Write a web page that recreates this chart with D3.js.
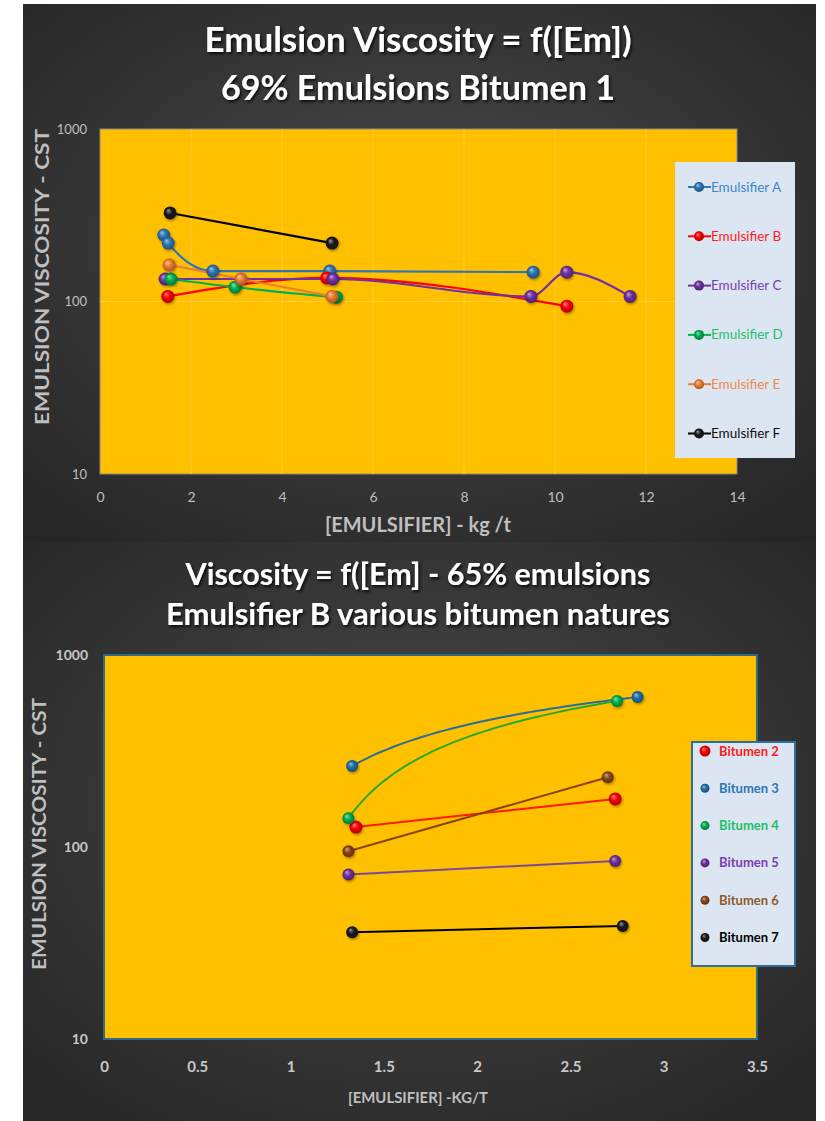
<!DOCTYPE html>
<html>
<head>
<meta charset="utf-8">
<script src="https://cdn.jsdelivr.net/npm/d3@7"></script>
<style>
  html, body { margin: 0; padding: 0; background: #ffffff; }
  svg { display: block; }
  text { font-family: Lato, "Open Sans", sans-serif; }
</style>
</head>
<body>
<svg id="chart" width="825" height="1121"></svg>
<script>
// ---------- Top chart: 69% emulsions, bitumen 1 ----------
const emulsifierNames = ["Emulsifier A", "Emulsifier B", "Emulsifier C", "Emulsifier D", "Emulsifier E", "Emulsifier F"];
const emulsifierColors = ["#2e75b6", "#ff0000", "#7030a0", "#00b050", "#ed7d31", "#000000"];
const emulsifierText = ["#3a86cc", "#ff1a1a", "#7a3db0", "#1fbf6a", "#f08a4b", "#111111"];
const emA = [[1.4, 243], [1.5, 218], [2.48, 150], [5.05, 150], [9.52, 148]];
const emB = [[1.49, 107], [4.98, 137], [10.26, 94]];
const emC = [[1.43, 135], [5.12, 135], [9.47, 107], [10.26, 148], [11.65, 107]];
const emD = [[1.56, 135], [2.97, 121], [5.2, 106]];
const emE = [[1.52, 163], [3.1, 135], [5.1, 107]];
const emF = [[1.54, 326], [5.1, 218]];
const emulsifierSeries = [emA, emB, emC, emD, emE, emF];
const topXTicks = [0, 2, 4, 6, 8, 10, 12, 14];
const topYTicks = [10, 100, 1000];

// ---------- Bottom chart: 65% emulsions, emulsifier B ----------
const bitumenNames = ["Bitumen 2", "Bitumen 3", "Bitumen 4", "Bitumen 5", "Bitumen 6", "Bitumen 7"];
const bitumenColors = ["#ff0000", "#1f6fa8", "#00b050", "#7030a0", "#8b4513", "#000000"];
const bitumenLine = ["#ff1a00", "#2a6f96", "#2aa82a", "#7a4a9a", "#8b4513", "#000000"];
const bitumenText = ["#ff1a1a", "#2e75b6", "#1fbf6a", "#7a3db0", "#8b5a2b", "#000000"];
const bit2 = [[1.35, 127], [2.74, 178]];
const bit3 = [[1.33, 264], [2.86, 604]];
const bit4 = [[1.31, 141], [2.75, 576]];
const bit5 = [[1.31, 72], [2.74, 84.5]];
const bit6 = [[1.31, 95], [2.70, 231]];
const bit7 = [[1.33, 36], [2.78, 38.8]];
const bitumenSeries = [bit2, bit3, bit4, bit5, bit6, bit7];
// series whose connector is a logarithmic fit (drawn in value space, not screen space)
const bitumenLogFit = [false, true, true, false, false, false];
const bottomXTicks = [0, 0.5, 1, 1.5, 2, 2.5, 3, 3.5];
const bottomYTicks = [10, 100, 1000];

const svg = d3.select("#chart");
const defs = svg.append("defs");

// background panels with soft radial light
function panelGrad(id) {
  const g = defs.append("radialGradient").attr("id", id)
    .attr("cx", "50%").attr("cy", "45%").attr("r", "70%");
  g.append("stop").attr("offset", "0%").attr("stop-color", "#4b4b4b");
  g.append("stop").attr("offset", "100%").attr("stop-color", "#262626");
}
panelGrad("panelTop");
panelGrad("panelBottom");
svg.append("rect").attr("x", 23).attr("y", 4).attr("width", 793).attr("height", 538).attr("fill", "url(#panelTop)");
svg.append("rect").attr("x", 23).attr("y", 542).attr("width", 793).attr("height", 579).attr("fill", "url(#panelBottom)");

// shadows
const sh = defs.append("filter").attr("id", "tshadow").attr("x", "-10%").attr("y", "-30%").attr("width", "120%").attr("height", "160%");
sh.append("feDropShadow").attr("dx", 1.5).attr("dy", 2).attr("stdDeviation", 1.5).attr("flood-color", "#000").attr("flood-opacity", 0.8);
const ms = defs.append("filter").attr("id", "mshadow").attr("x", "-50%").attr("y", "-50%").attr("width", "200%").attr("height", "200%");
ms.append("feDropShadow").attr("dx", 1).attr("dy", 1.5).attr("stdDeviation", 1).attr("flood-color", "#000").attr("flood-opacity", 0.35);

// sphere-like marker gradients
function sphere(id, color) {
  const c = d3.color(color);
  const g = defs.append("radialGradient").attr("id", id)
    .attr("cx", "50%").attr("cy", "50%").attr("r", "55%").attr("fx", "35%").attr("fy", "30%");
  g.append("stop").attr("offset", "0%").attr("stop-color", d3.interpolateRgb(color, "#ffffff")(0.55));
  g.append("stop").attr("offset", "45%").attr("stop-color", color);
  g.append("stop").attr("offset", "100%").attr("stop-color", c.darker(1.2).formatHex());
  return "url(#" + id + ")";
}
const emFill = emulsifierColors.map((c, i) => sphere("em" + i, c === "#000000" ? "#1a1a1a" : c));
const bitFill = bitumenColors.map((c, i) => sphere("bit" + i, c === "#000000" ? "#1a1a1a" : c));

function title(lines, y0, dy, size, widths) {
  lines.forEach((t, i) => {
    svg.append("text").attr("x", 418).attr("y", y0 + i * dy)
      .attr("text-anchor", "middle").attr("font-size", size).attr("font-weight", 700)
      .attr("textLength", widths[i]).attr("lengthAdjust", "spacingAndGlyphs")
      .attr("fill", "#ffffff").attr("filter", "url(#tshadow)").text(t);
  });
}
title(["Emulsion Viscosity = f([Em])", "69% Emulsions Bitumen 1"], 52, 48, 34, [427, 394]);
title(["Viscosity = f([Em] - 65% emulsions", "Emulsifier B various bitumen natures"], 585, 40, 31, [465, 504]);

// ---------- top plot ----------
const xT = d3.scaleLinear().domain([0, 14]).range([100, 737]);
const yT = d3.scaleLog().domain([10, 1000]).range([474, 129]);

svg.append("rect").attr("x", xT(0)).attr("y", yT(1000))
  .attr("width", xT(14) - xT(0)).attr("height", yT(10) - yT(1000))
  .attr("fill", "#ffc000").attr("stroke", "#8a8a8a").attr("stroke-width", 1);

const gT = svg.append("g");
gT.selectAll("line.vg").data(topXTicks.slice(1, -1)).join("line")
  .attr("x1", d => xT(d)).attr("x2", d => xT(d)).attr("y1", yT(1000)).attr("y2", yT(10))
  .attr("stroke", "#ffcc33").attr("stroke-width", 1);
gT.selectAll("line.hg").data([100]).join("line")
  .attr("x1", xT(0)).attr("x2", xT(14)).attr("y1", d => yT(d)).attr("y2", d => yT(d))
  .attr("stroke", "#ffcc33").attr("stroke-width", 1);

const axTY = svg.append("g").attr("transform", `translate(${xT(0)},0)`)
  .call(d3.axisLeft(yT).tickValues(topYTicks).tickFormat(d3.format("d")).tickSize(0).tickPadding(13));
const axTX = svg.append("g").attr("transform", `translate(0,${yT(10)})`)
  .call(d3.axisBottom(xT).tickValues(topXTicks).tickFormat(d3.format("d")).tickSize(0).tickPadding(18));
[axTY, axTX].forEach(a => {
  a.select(".domain").remove();
  a.selectAll("text").attr("fill", "#bfbfbf").attr("font-size", 14).attr("font-family", "Lato, sans-serif");
});
axTY.selectAll("text").attr("font-size", 13);

svg.append("text").attr("transform", "translate(49,277) rotate(-90)")
  .attr("text-anchor", "middle").attr("font-size", 19).attr("font-weight", 700)
  .attr("textLength", 296).attr("lengthAdjust", "spacingAndGlyphs")
  .attr("fill", "#bfbfbf").text("EMULSION VISCOSITY - CST");
svg.append("text").attr("x", 418).attr("y", 532).attr("text-anchor", "middle")
  .attr("font-size", 20).attr("font-weight", 700).attr("fill", "#bfbfbf")
  .attr("textLength", 186).attr("lengthAdjust", "spacingAndGlyphs").text("[EMULSIFIER] - kg /t");

const lineT = d3.line().x(d => xT(d[0])).y(d => yT(d[1])).curve(d3.curveMonotoneX);
emulsifierSeries.forEach((s, i) => {
  svg.append("path").datum(s).attr("d", lineT).attr("fill", "none")
    .attr("stroke", emulsifierColors[i]).attr("stroke-width", 2.2);
});
emulsifierSeries.forEach((s, i) => {
  svg.append("g").selectAll("circle").data(s).join("circle")
    .attr("cx", d => xT(d[0])).attr("cy", d => yT(d[1])).attr("r", 6.5)
    .attr("fill", emFill[i]).attr("filter", "url(#mshadow)");
});

// top legend
svg.append("rect").attr("x", 675).attr("y", 162).attr("width", 120).attr("height", 296).attr("fill", "#dce6f2");
emulsifierNames.forEach((n, i) => {
  const y = 187 + i * 49.3;
  svg.append("line").attr("x1", 688).attr("x2", 711).attr("y1", y).attr("y2", y)
    .attr("stroke", emulsifierColors[i]).attr("stroke-width", 2);
  svg.append("circle").attr("cx", 699).attr("cy", y).attr("r", 5).attr("fill", emFill[i]);
  svg.append("text").attr("x", 711).attr("y", y + 4.5).attr("font-size", 13.5)
    .attr("fill", emulsifierText[i]).text(n);
});

// ---------- bottom plot ----------
const xB = d3.scaleLinear().domain([0, 3.5]).range([104, 757]);
const yB = d3.scaleLog().domain([10, 1000]).range([1039, 655]);

svg.append("rect").attr("x", xB(0)).attr("y", yB(1000))
  .attr("width", xB(3.5) - xB(0)).attr("height", yB(10) - yB(1000))
  .attr("fill", "#ffc000").attr("stroke", "#2f6a86").attr("stroke-width", 2);

const axBY = svg.append("g").attr("transform", `translate(${xB(0)},0)`)
  .call(d3.axisLeft(yB).tickValues(bottomYTicks).tickFormat(d3.format("d")).tickSize(0).tickPadding(16));
const axBX = svg.append("g").attr("transform", `translate(0,${yB(10)})`)
  .call(d3.axisBottom(xB).tickValues(bottomXTicks).tickFormat(d => String(d)).tickSize(0).tickPadding(22));
[axBY, axBX].forEach(a => {
  a.select(".domain").remove();
  a.selectAll("text").attr("fill", "#c8c8c8").attr("font-size", 15).attr("font-weight", 700)
    .attr("font-family", "Lato, sans-serif");
});
axBY.selectAll("text").attr("font-size", 14);

svg.append("text").attr("transform", "translate(46,834) rotate(-90)")
  .attr("text-anchor", "middle").attr("font-size", 18).attr("font-weight", 700)
  .attr("textLength", 272).attr("lengthAdjust", "spacingAndGlyphs")
  .attr("fill", "#bfbfbf").text("EMULSION VISCOSITY - CST");
svg.append("text").attr("x", 418).attr("y", 1103).attr("text-anchor", "middle")
  .attr("font-size", 16).attr("font-weight", 700).attr("fill", "#bfbfbf")
  .attr("textLength", 140).attr("lengthAdjust", "spacingAndGlyphs").text("[EMULSIFIER] -KG/T");

// straight connectors in screen space; log-fit connectors follow y = a·ln(x) + b between the two points
const lineB = d3.line().x(d => xB(d[0])).y(d => yB(d[1]));
function logFitPath(s) {
  const [[x0, v0], [x1, v1]] = s;
  const a = (v1 - v0) / (Math.log(x1) - Math.log(x0));
  const steps = d3.range(0, 1.0001, 1 / 40);
  const pts = steps.map(t => {
    const x = x0 + (x1 - x0) * t;
    return [x, v0 + a * (Math.log(x) - Math.log(x0))];
  });
  return d3.line().x(d => xB(d[0])).y(d => yB(d[1])).curve(d3.curveMonotoneX)(pts);
}
bitumenSeries.forEach((s, i) => {
  svg.append("path").attr("d", bitumenLogFit[i] ? logFitPath(s) : lineB(s)).attr("fill", "none")
    .attr("stroke", bitumenLine[i]).attr("stroke-width", 2);
});
bitumenSeries.forEach((s, i) => {
  svg.append("g").selectAll("circle").data(s).join("circle")
    .attr("cx", d => xB(d[0])).attr("cy", d => yB(d[1])).attr("r", i === 0 ? 6.5 : 6)
    .attr("fill", bitFill[i]).attr("filter", "url(#mshadow)");
});

// bottom legend
svg.append("rect").attr("x", 692).attr("y", 742).attr("width", 103).attr("height", 224)
  .attr("fill", "#dce6f2").attr("stroke", "#2e6f9e").attr("stroke-width", 2);
bitumenNames.forEach((n, i) => {
  const y = 751 + i * 37.3;
  svg.append("circle").attr("cx", 705).attr("cy", y).attr("r", i === 0 ? 5.5 : 4.5).attr("fill", bitFill[i]);
  svg.append("text").attr("x", 719).attr("y", y + 4.5).attr("font-size", 13).attr("font-weight", 700)
    .attr("fill", bitumenText[i]).text(n);
});
</script>
</body>
</html>
